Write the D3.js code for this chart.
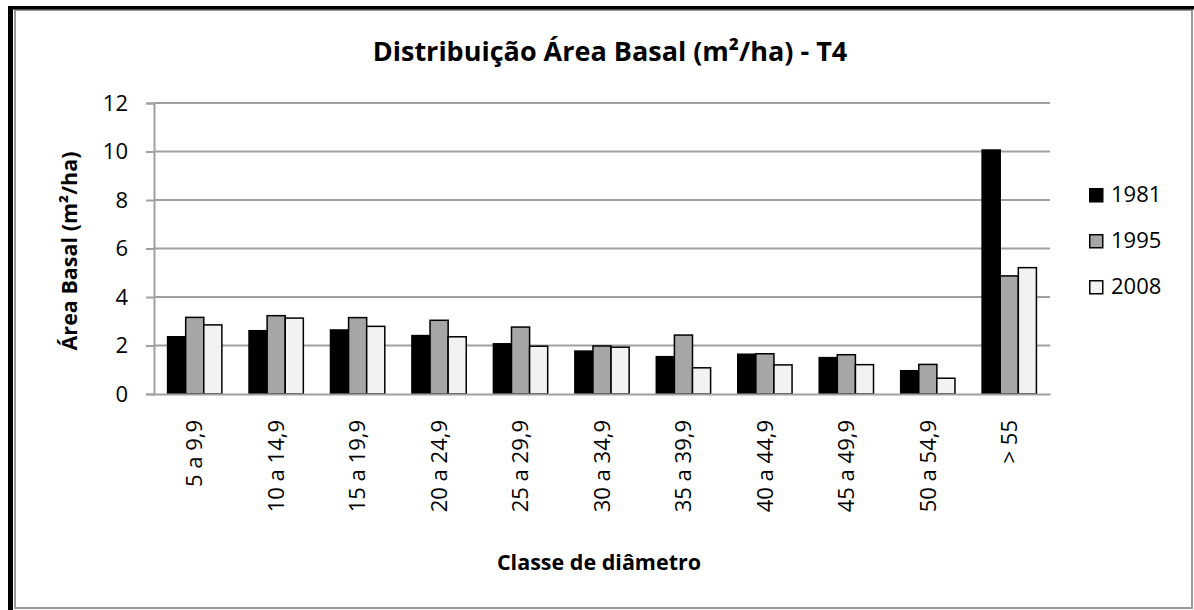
<!DOCTYPE html>
<html>
<head>
<meta charset="utf-8">
<script src="https://cdn.jsdelivr.net/npm/d3@7"></script>
<style>
  html, body { margin: 0; padding: 0; background: #fff; }
  svg { display: block; }
  text { font-family: "Open Sans", sans-serif; fill: #000; }
</style>
</head>
<body>
<svg id="chart" width="1194" height="610"></svg>
<script>
const categories = ["5 a 9,9", "10 a 14,9", "15 a 19,9", "20 a 24,9", "25 a 29,9", "30 a 34,9",
                    "35 a 39,9", "40 a 44,9", "45 a 49,9", "50 a 54,9", "> 55"];
const seriesNames = ["1981", "1995", "2008"];
const values1981 = [2.36, 2.61, 2.64, 2.41, 2.07, 1.77, 1.54, 1.64, 1.50, 0.96, 10.06];
const values1995 = [3.16, 3.23, 3.15, 3.04, 2.76, 1.98, 2.43, 1.66, 1.62, 1.22, 4.87];
const values2008 = [2.85, 3.13, 2.79, 2.36, 1.97, 1.93, 1.08, 1.20, 1.21, 0.65, 5.21];
const yTicks = [0, 2, 4, 6, 8, 10, 12];
const titleText = "Distribuição Área Basal (m²/ha) - T4";
const yTitle = "Área Basal (m²/ha)";
const xTitle = "Classe de diâmetro";

const seriesValues = [values1981, values1995, values2008];
const colors = ["#000000", "#a6a6a6", "#f2f2f2"];

const svg = d3.select("#chart");
const W = 1194, H = 610;
const plot = { left: 154, right: 1050, top: 103, bottom: 394 };

// chart frame
svg.append("rect").attr("x", 15).attr("y", 10).attr("width", 1177).attr("height", 598)
  .attr("fill", "#fff").attr("stroke", "#999").attr("stroke-width", 2);
svg.append("rect").attr("x", 8).attr("y", 6).attr("width", 5).attr("height", H - 6).attr("fill", "#000");
svg.append("rect").attr("x", 8).attr("y", 6).attr("width", W - 8).attr("height", 3.5).attr("fill", "#000");

const x = d3.scaleBand().domain(categories).range([plot.left, plot.right])
  .paddingInner(1/3).paddingOuter(1/6);
const xs = d3.scaleBand().domain(seriesNames).range([0, x.bandwidth()]).padding(0);
const y = d3.scaleLinear().domain([0, 12]).range([plot.bottom, plot.top]);

// gridlines
svg.append("g").selectAll("line").data(yTicks.filter(d => d > 0)).join("line")
  .attr("x1", plot.left).attr("x2", plot.right)
  .attr("y1", d => y(d)).attr("y2", d => y(d))
  .attr("stroke", "#a0a0a0").attr("stroke-width", 2);

// y axis
const yAxis = svg.append("g").attr("transform", `translate(${plot.left},0)`)
  .call(d3.axisLeft(y).tickValues(yTicks).tickSize(8).tickPadding(18).tickFormat(d3.format("d")));
yAxis.select(".domain").attr("stroke", "#a0a0a0").attr("stroke-width", 2);
yAxis.selectAll(".tick line").attr("stroke", "#a0a0a0").attr("stroke-width", 2);
yAxis.selectAll(".tick text").attr("font-size", 22).attr("font-family", "Open Sans").attr("fill", "#000");

// bars
const rows = [];
categories.forEach((c, i) => seriesNames.forEach((s, j) => rows.push({ c, s, j, v: seriesValues[j][i] })));
svg.append("g").selectAll("rect").data(rows).join("rect")
  .attr("x", d => x(d.c) + xs(d.s))
  .attr("y", d => y(d.v))
  .attr("width", xs.bandwidth())
  .attr("height", d => y(0) - y(d.v))
  .attr("fill", d => colors[d.j])
  .attr("stroke", "#000").attr("stroke-width", 1.5);

// x axis
const xAxis = svg.append("g").attr("transform", `translate(0,${plot.bottom})`)
  .call(d3.axisBottom(x).tickSize(0).tickPadding(0));
xAxis.select(".domain").attr("stroke", "#a0a0a0").attr("stroke-width", 2);
xAxis.selectAll(".tick text")
  .attr("font-size", 22).attr("font-family", "Open Sans").attr("fill", "#000")
  .attr("text-anchor", "end").attr("dy", "0.35em")
  .attr("transform", "translate(0,26) rotate(-90)")
  .attr("x", 0).attr("y", 0);

// titles
svg.append("text").attr("x", 610).attr("y", 61).attr("text-anchor", "middle")
  .attr("font-size", 27).attr("font-weight", "bold").text(titleText);
svg.append("text").attr("transform", "translate(77,251) rotate(-90)").attr("text-anchor", "middle")
  .attr("font-size", 21.5).attr("font-weight", "bold").text(yTitle);
svg.append("text").attr("x", 599).attr("y", 570).attr("text-anchor", "middle")
  .attr("font-size", 21.5).attr("font-weight", "bold").text(xTitle);

// legend
const lg = svg.append("g").selectAll("g").data(seriesNames).join("g")
  .attr("transform", (d, i) => `translate(1089,${188 + i * 46})`);
lg.append("rect").attr("x", 0.75).attr("y", 0.75).attr("width", 13).attr("height", 13)
  .attr("fill", (d, i) => colors[i]).attr("stroke", "#000").attr("stroke-width", 1.5);
lg.append("text").attr("x", 22).attr("y", 14).attr("font-size", 22).text(d => d);
</script>
</body>
</html>
